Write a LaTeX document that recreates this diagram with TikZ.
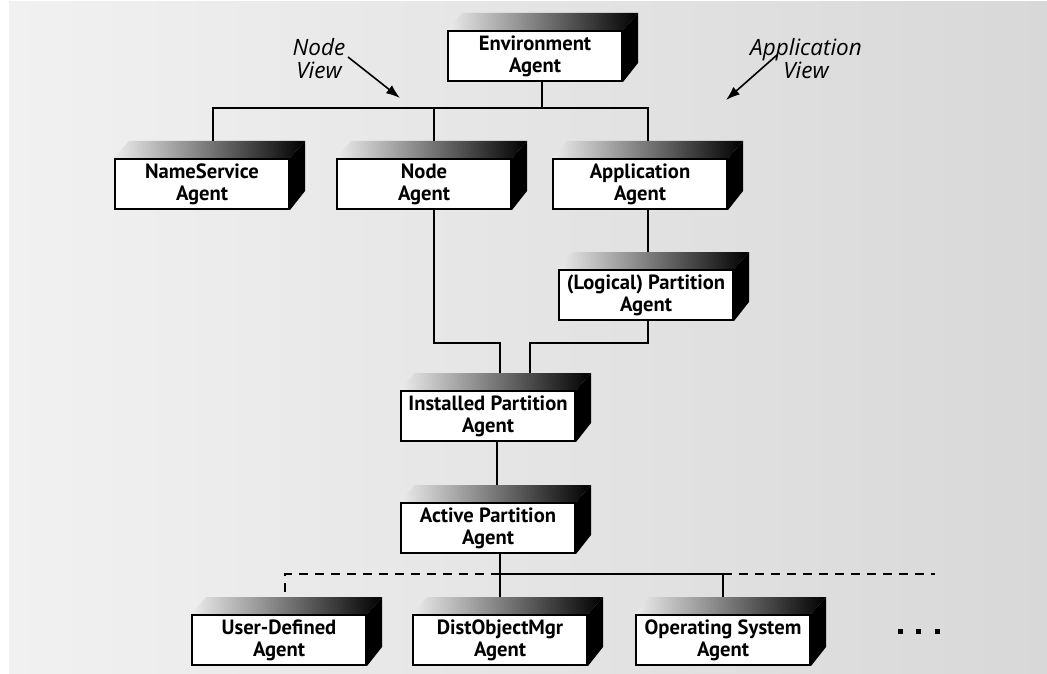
\documentclass[tikz,border=0pt]{standalone}
\usepackage{fontspec}
\setmainfont{PT Sans}
\newfontfamily\lblfont{Open Sans}
\usetikzlibrary{arrows.meta,calc,backgrounds}
\definecolor{bgl}{RGB}{241,241,241}
\definecolor{bgr}{RGB}{216,216,216}
\definecolor{topl}{RGB}{236,236,236}
\begin{document}
\begin{tikzpicture}[x=1pt,y=-1pt,
  agent/.style={draw=black, line width=2pt, fill=white, minimum width=174pt, minimum height=50pt,
    inner sep=0pt, align=center, font=\bfseries\fontsize{20.6}{22}\selectfont},
  conn/.style={line width=2pt},
  dconn/.style={line width=2pt, dash pattern=on 9pt off 7pt},
  lbl/.style={font=\lblfont\itshape\fontsize{22.5}{23}\selectfont, align=center, inner sep=0pt},
  arr/.style={line width=1.6pt, -{Latex[length=14pt,width=10pt]}},
  dotsq/.style={fill=black, minimum size=5pt, inner sep=0pt}]
\useasboundingbox (0,0) rectangle (1047,674);
% agents
\node[agent] (env)     at (535,56)  {Environment\\Agent};
\node[agent] (ns)      at (202,184) {NameService\\Agent};
\node[agent] (nodeA)   at (424,184) {Node\\Agent};
\node[agent] (app)     at (640,184) {Application\\Agent};
\node[agent] (logical) at (646,295) {(Logical) Partition\\Agent};
\node[agent] (inst)    at (488,416) {Installed Partition\\Agent};
\node[agent] (active)  at (488,528) {Active Partition\\Agent};
\node[agent] (user)    at (279,640) {User-Defined\\Agent};
\node[agent] (dist)    at (500,640) {DistObjectMgr\\Agent};
\node[agent] (os)      at (723,640) {Operating System\\Agent};
% background and 3D faces
\begin{scope}[on background layer]
  \shade[left color=bgl, right color=bgr] (9,2) rectangle (1047,673);
  \foreach \n in {env,ns,nodeA,app,logical,inst,active,user,dist,os}{
    \shade[left color=topl, right color=black]
      (\n.north west) -- ++(15,-17) -- ($(\n.north east)+(15,-17)$) -- (\n.north east) -- cycle;
    \fill[black] (\n.north east) -- ++(15,-17) -- ++(0,50) -- (\n.south east) -- cycle;
  }
\end{scope}
% top tree
\draw[conn] ([xshift=7pt]env.south) -- ++(0,26) coordinate (bar);
\draw[conn] ([xshift=11pt,yshift=17pt]ns.north) -- ([xshift=11pt]ns.north |- bar)
  -- ([xshift=8pt]app.north |- bar) -- ([xshift=8pt,yshift=17pt]app.north);
\draw[conn] ([xshift=10pt]nodeA.north |- bar) -- ([xshift=10pt,yshift=17pt]nodeA.north);
\draw[conn] ([xshift=8pt]app.south) -- ([xshift=2pt,yshift=17pt]logical.north);
% to installed partition
\draw[conn] ([xshift=10pt]nodeA.south) -- ++(0,133) coordinate (j1)
  -- ([xshift=12pt]inst.north |- j1) -- ([xshift=12pt,yshift=17pt]inst.north);
\draw[conn] ([xshift=2pt]logical.south) -- ([xshift=2pt]logical.south |- j1)
  -- ([xshift=42pt]inst.north |- j1) -- ([xshift=42pt,yshift=17pt]inst.north);
\draw[conn] ([xshift=9pt]inst.south) -- ([xshift=9pt,yshift=17pt]active.north);
% bottom tree
\coordinate (b1) at ($(dist.north)+(0,-40)$);
\coordinate (ud) at ($(user.north)+(6,-22)$);
\draw[conn] (active.south -| dist.north) -- ([yshift=17pt]dist.north);
\draw[conn] (b1) -- (b1 -| os.north) -- ([yshift=17pt]os.north);
\draw[dconn] (ud) -- (ud |- b1) -- (b1);
\draw[dconn] (b1 -| os.north) -- ++(212,0) coordinate (dend);
% dots
\node[dotsq] (d1) at (900,631) {};
\node[dotsq] (d2) at (918,631) {};
\node[dotsq] (d3) at (937,631) {};
% view labels
\node[lbl] (nv) at (319,59) {Node\\View};
\node[lbl] (av) at (806,59) {Application\\View};
\coordinate (nvt) at (400,98);
\coordinate (avt) at (726,100);
\draw[arr] ([xshift=29pt,yshift=2pt]nv.center) -- (nvt);
\draw[arr] ([xshift=-29pt,yshift=4pt]av.center) -- (avt);
\end{tikzpicture}
\end{document}
